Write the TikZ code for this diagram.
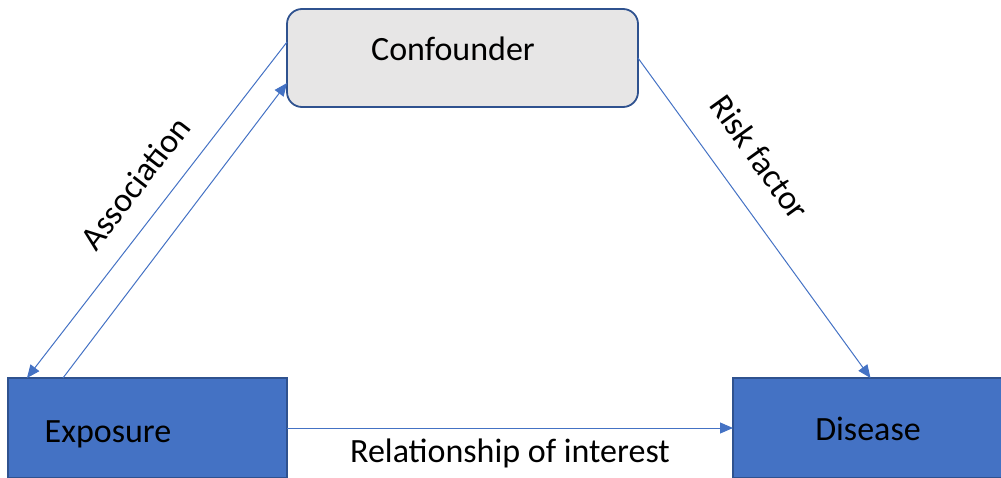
\documentclass[tikz,border=0pt]{standalone}
\usepackage{fontspec}
\setmainfont{Carlito}
\usetikzlibrary{arrows.meta,calc}
\definecolor{boxblue}{HTML}{4472C4}
\definecolor{edgeblue}{HTML}{2F528F}
\definecolor{boxgray}{HTML}{E7E6E6}
\tikzset{
  bluebox/.style={draw=edgeblue, fill=boxblue, line width=0.75pt, outer sep=0pt, inner sep=0pt},
  graybox/.style={draw=edgeblue, fill=boxgray, line width=0.9pt, rounded corners=7.5pt, outer sep=0pt, inner sep=0pt},
  lbl/.style={font=\fontsize{17}{20}\selectfont, inner sep=0pt},
  link/.style={draw=boxblue, line width=0.5pt, -{Triangle[length=6.5pt,width=5.5pt]}}
}
\begin{document}
\begin{tikzpicture}[x=0.5pt,y=-0.5pt]
  \useasboundingbox (0,0) rectangle (1001,477);
  \clip (0,0) rectangle (1001,477);
  % boxes
  \node[graybox, minimum width=175.5pt, minimum height=49pt] (conf) at (462.5,58) {};
  \node[bluebox, minimum width=139.5pt, minimum height=50pt] (exp) at (147.5,428) {};
  \node[bluebox, minimum width=137.5pt, minimum height=50pt] (dis) at (870.5,428) {};
  % box texts
  \node[lbl] (tconf) at (453,49) {Confounder};
  \node[lbl] (texp) at (108,434) {Exposure};
  \node[lbl] (tdis) at (868,429) {Disease};
  % connectors
  \draw[link] ($(conf.north west)!0.337!(conf.south west)$) -- ($(exp.north west)!0.068!(exp.north east)$);
  \draw[link] ($(exp.north west)!0.197!(exp.north east)$) -- ($(conf.north west)!0.755!(conf.south west)$);
  \draw[link] (conf.east) -- (dis.north);
  \draw[link] (exp.east) -- (dis.west);
  % connector labels
  \node[lbl, rotate=52.3] (lassoc) at (135,183) {Association};
  \node[lbl, rotate=-54.2] (lrisk) at (760,157) {Risk factor};
  \node[lbl] (lrel) at (510,453) {Relationship of interest};
\end{tikzpicture}
\end{document}
